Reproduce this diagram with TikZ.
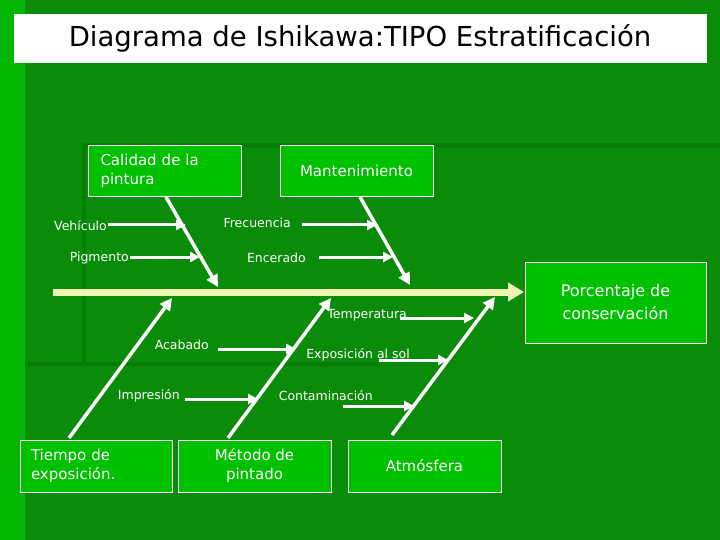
\documentclass[tikz,border=0pt]{standalone}
\usepackage{fontspec}
\setmainfont{DejaVu Sans}
\usetikzlibrary{arrows.meta}
\definecolor{bg}{RGB}{10,140,10}
\definecolor{bgdark}{RGB}{5,125,5}
\definecolor{boxg}{RGB}{0,192,0}
\definecolor{spine}{RGB}{240,245,180}
\begin{document}
\begin{tikzpicture}[x=1pt,y=-1pt,
  cause/.style={draw=white,line width=0.6pt,fill=boxg,text=white,font=\fontsize{15}{19}\selectfont,inner sep=0pt},
  sub/.style={text=white,font=\fontsize{12.5}{14}\selectfont,inner sep=1pt},
  bone/.style={draw=white,line width=3.5pt,-{Triangle[length=12pt,width=12pt]}},
  subarrow/.style={draw=white,line width=3pt,-{Triangle[length=10pt,width=10pt]}}]
\useasboundingbox (0,0) rectangle (720,540);
\fill[bg] (0,0) rectangle (720,540);
\fill[boxg!80!bg] (0,0) rectangle (25,540);
\fill[bgdark] (82,143) rectangle (720,148);
\fill[bgdark] (82,143) rectangle (86,365);
\fill[bgdark] (25,362) rectangle (380,366);
\node[draw=white,fill=white,minimum width=692pt,minimum height=48pt,inner sep=0pt,font=\fontsize{27.5}{32}\selectfont] (title) at (360,38) {Diagrama de Ishikawa:TIPO Estratificación};
% boxes
\node[cause,minimum width=153pt,minimum height=51pt,align=left,text width=128pt,xshift=6pt] (cal) at (158.5,170.5) {Calidad de la\\pintura};
\node[cause,minimum width=153pt,minimum height=51pt] (man) at (356.5,170.5) {Mantenimiento};
\node[cause,minimum width=181pt,minimum height=81pt,align=center,font=\fontsize{16}{23}\selectfont] (eff) at (615.5,302.5) {Porcentaje de\\conservación};
\node[cause,minimum width=152pt,minimum height=52pt,align=left,text width=130pt] (tie) at (96,466) {Tiempo de\\exposición.};
\node[cause,minimum width=153pt,minimum height=52pt,align=center] (met) at (254.5,466) {Método de\\pintado};
\node[cause,minimum width=153pt,minimum height=52pt] (atm) at (424.5,466) {Atmósfera};
% spine
\coordinate (s0) at (53,292);
\coordinate (s1) at (524,292);
\draw[draw=spine,line width=7pt,-{Triangle[length=16pt,width=18pt]}] (s0) -- (s1);
% bones
\coordinate (c1) at (166,197); \coordinate (e1) at (218,287);
\coordinate (c2) at (360,197); \coordinate (e2) at (410,285);
\draw[bone] (c1) -- (e1);
\draw[bone] (c2) -- (e2);
\coordinate (t1) at (69,438); \coordinate (h1) at (172,298);
\coordinate (t2) at (228,438); \coordinate (h2) at (331,298);
\coordinate (t3) at (392,435); \coordinate (h3) at (495,297);
\draw[bone] (t1) -- (h1);
\draw[bone] (t2) -- (h2);
\draw[bone] (t3) -- (h3);
% sub causes
\node[sub,anchor=east] (veh) at (108,226) {Vehículo};
\coordinate (veh2) at (186,225);
\draw[subarrow] (veh.east |- veh2) -- (veh2);
\node[sub,anchor=east] (pig) at (130,258) {Pigmento};
\coordinate (pig2) at (200,257);
\draw[subarrow] (pig.east |- pig2) -- (pig2);
\node[sub,anchor=east] (fre) at (292,223) {Frecuencia};
\coordinate (fre2) at (377,225);
\draw[subarrow] ([xshift=10pt]fre.east |- fre2) -- (fre2);
\node[sub,anchor=east] (enc) at (307,258) {Encerado};
\coordinate (enc2) at (393,257);
\draw[subarrow] ([xshift=12pt]enc.east |- enc2) -- (enc2);
\node[sub,anchor=east] (tem) at (408,315) {Temperatura};
\coordinate (tem2) at (474,318);
\draw[subarrow] ([xshift=-8pt]tem.east |- tem2) -- (tem2);
\node[sub,anchor=east] (aca) at (210,345) {Acabado};
\coordinate (aca2) at (296,349);
\draw[subarrow] ([xshift=8pt]aca.east |- aca2) -- (aca2);
\node[sub,anchor=east] (exp) at (411,355) {Exposición al sol};
\coordinate (exp2) at (448,360);
\draw[subarrow] ([xshift=-32pt]exp.east |- exp2) -- (exp2);
\node[sub,anchor=east] (imp) at (181,396) {Impresión};
\coordinate (imp2) at (258,399);
\draw[subarrow] ([xshift=4pt]imp.east |- imp2) -- (imp2);
\node[sub,anchor=east] (con) at (374,396) {Contaminación};
\coordinate (con2) at (414,406);
\draw[subarrow] ([xshift=-31pt]con.east |- con2) -- (con2);
\end{tikzpicture}
\end{document}
